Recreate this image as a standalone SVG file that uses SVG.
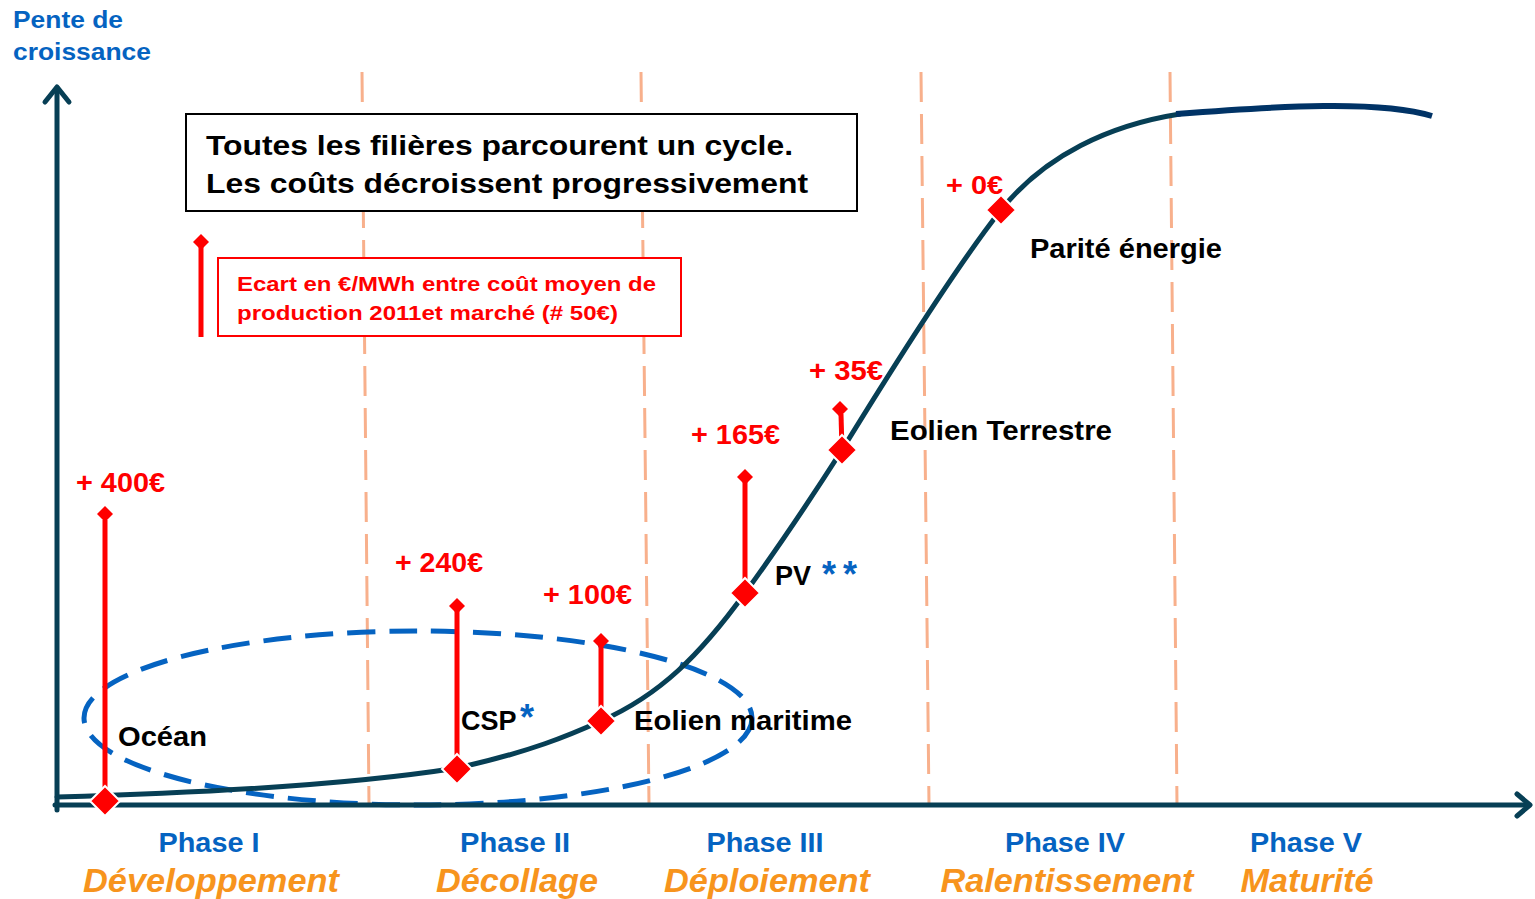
<svg xmlns="http://www.w3.org/2000/svg" width="1535" height="899" viewBox="0 0 1535 899">
<style>
.ph{font-family:"Liberation Sans",Arial,sans-serif;font-weight:bold;fill:#0563C1;font-size:28px;text-anchor:middle}
.ax-lbl{font-family:"Liberation Sans",Arial,sans-serif;font-weight:bold;fill:#0563C1;font-size:24px}
.st{font-family:"Liberation Sans",Arial,sans-serif;font-weight:bold;font-style:italic;fill:#F7941D;font-size:34px;text-anchor:middle}
.lb{font-family:"Liberation Sans",Arial,sans-serif;font-weight:bold;fill:#000;font-size:27px}
.rd{font-family:"Liberation Sans",Arial,sans-serif;font-weight:bold;fill:#FF0000;font-size:27px}
.bl{fill:#0563C1;font-size:36px}
.vd{stroke:#F8B08C;stroke-width:3;stroke-dasharray:30 12;fill:none}
.ax{stroke:#073F55;stroke-width:5;fill:none;stroke-linecap:round;stroke-linejoin:round}
.gap{stroke:#FF0000;stroke-width:5;fill:none}
.dm{fill:#FF0000;stroke:#FFFFFF;stroke-width:2}
.cap{fill:#FF0000}
</style>
<defs>
<polygon id="big" class="dm" points="0,-15 15,0 0,15 -15,0"/>
<polygon id="sm" class="cap" points="0,-8 8,0 0,8 -8,0"/>
</defs>
<rect width="1535" height="899" fill="#FFFFFF"/>

<g id="phase-dividers">
<line class="vd" x1="362" y1="72" x2="369" y2="805"/>
<line class="vd" x1="641" y1="72" x2="649" y2="805"/>
<line class="vd" x1="921" y1="72" x2="929" y2="805"/>
<line class="vd" x1="1170" y1="72" x2="1177" y2="805"/>
</g>

<g id="ellipse-group">
<ellipse cx="418" cy="718" rx="334" ry="87" fill="none" stroke="#0563C1" stroke-width="5" stroke-dasharray="28 14"/>
</g>

<g id="connectors">
<path class="ax" d="M57,797 C200,793 350,785 457,768 C530,752 570,735 601,721 C660,695 700,655 745,593 C780,545 810,500 842,450 C890,372 955,268 1001,210 C1045,155 1110,125 1180,114"/>
<path d="M1176,114 C1280,106 1380,100 1432,116" fill="none" stroke="#003366" stroke-width="6"/>
<line class="ax" x1="57" y1="88" x2="57" y2="810"/>
<polyline class="ax" points="45,102 57,87 69,102"/>
<line class="ax" x1="55" y1="805" x2="1528" y2="805"/>
<polyline class="ax" points="1517,794 1530,805 1517,816"/>
<line class="gap" x1="105" y1="520" x2="105" y2="801"/>
<use href="#sm" x="105" y="514"/>
<line class="gap" x1="457" y1="611" x2="457" y2="769"/>
<use href="#sm" x="457" y="606"/>
<line class="gap" x1="601" y1="646" x2="601" y2="721"/>
<use href="#sm" x="601" y="641"/>
<line class="gap" x1="745" y1="482" x2="745" y2="593"/>
<use href="#sm" x="745" y="477"/>
<line class="gap" x1="841" y1="414" x2="842" y2="450"/>
<use href="#sm" x="840" y="409"/>
</g>

<g id="title-box">
<rect x="186" y="114" width="671" height="97" fill="#FFFFFF" stroke="#000000" stroke-width="2"/>
<text class="lb" x="206" y="155" font-size="30" textLength="587" lengthAdjust="spacingAndGlyphs">Toutes les filières parcourent un cycle.</text>
<text class="lb" x="206" y="193" font-size="30" textLength="602" lengthAdjust="spacingAndGlyphs">Les coûts décroissent progressivement</text>
</g>

<g id="legend">
<line class="gap" x1="201" y1="246" x2="201" y2="337"/>
<use href="#sm" x="201" y="242"/>
<rect x="218" y="258" width="463" height="78" fill="#FFFFFF" stroke="#FF0000" stroke-width="2"/>
<text class="rd" x="237" y="291" style="font-size:21px" textLength="419" lengthAdjust="spacingAndGlyphs">Ecart en €/MWh entre coût moyen de</text>
<text class="rd" x="237" y="320" style="font-size:21px" textLength="381" lengthAdjust="spacingAndGlyphs">production 2011et marché (# 50€)</text>
</g>

<g id="axis-label">
<text class="ax-lbl" x="13" y="28" textLength="110" lengthAdjust="spacingAndGlyphs">Pente de</text>
<text class="ax-lbl" x="13" y="60" textLength="138" lengthAdjust="spacingAndGlyphs">croissance</text>
</g>

<g id="node-ocean">
<use href="#big" x="105" y="801"/>
<text class="rd" x="76" y="492" textLength="89" lengthAdjust="spacingAndGlyphs">+ 400€</text>
<text class="lb" x="118" y="746" textLength="89" lengthAdjust="spacingAndGlyphs">Océan</text>
</g>

<g id="node-csp">
<use href="#big" x="457" y="769"/>
<text class="rd" x="395" y="572" textLength="88" lengthAdjust="spacingAndGlyphs">+ 240€</text>
<text class="lb" x="461" y="730">CSP<tspan class="bl" x="520">*</tspan></text>
</g>

<g id="node-eolien-maritime">
<use href="#big" x="601" y="721"/>
<text class="rd" x="543" y="604" textLength="89" lengthAdjust="spacingAndGlyphs">+ 100€</text>
<text class="lb" x="634" y="730" textLength="218" lengthAdjust="spacingAndGlyphs">Eolien maritime</text>
</g>

<g id="node-pv">
<use href="#big" x="745" y="593"/>
<text class="rd" x="691" y="444" textLength="89" lengthAdjust="spacingAndGlyphs">+ 165€</text>
<text class="lb" x="775" y="585">PV<tspan class="bl" x="822" y="587" textLength="35" lengthAdjust="spacing">**</tspan></text>
</g>

<g id="node-eolien-terrestre">
<use href="#big" x="842" y="450"/>
<text class="rd" x="809" y="380" textLength="74" lengthAdjust="spacingAndGlyphs">+ 35€</text>
<text class="lb" x="890" y="440" textLength="222" lengthAdjust="spacingAndGlyphs">Eolien Terrestre</text>
</g>

<g id="node-parite">
<use href="#big" x="1001" y="210"/>
<text class="rd" x="946" y="194" style="font-size:25px" textLength="57" lengthAdjust="spacingAndGlyphs">+ 0€</text>
<text class="lb" x="1030" y="258" textLength="192" lengthAdjust="spacingAndGlyphs">Parité énergie</text>
</g>

<g id="phases">
<text class="ph" x="209" y="852" textLength="101" lengthAdjust="spacingAndGlyphs">Phase I</text>
<text class="st" x="211" y="892" textLength="256" lengthAdjust="spacingAndGlyphs">Développement</text>
<text class="ph" x="515" y="852" textLength="110" lengthAdjust="spacingAndGlyphs">Phase II</text>
<text class="st" x="517" y="892" textLength="162" lengthAdjust="spacingAndGlyphs">Décollage</text>
<text class="ph" x="765" y="852" textLength="117" lengthAdjust="spacingAndGlyphs">Phase III</text>
<text class="st" x="767" y="892" textLength="206" lengthAdjust="spacingAndGlyphs">Déploiement</text>
<text class="ph" x="1065" y="852" textLength="120" lengthAdjust="spacingAndGlyphs">Phase IV</text>
<text class="st" x="1067" y="892" textLength="253" lengthAdjust="spacingAndGlyphs">Ralentissement</text>
<text class="ph" x="1306" y="852" textLength="112" lengthAdjust="spacingAndGlyphs">Phase V</text>
<text class="st" x="1307" y="892" textLength="133" lengthAdjust="spacingAndGlyphs">Maturité</text>
</g>
</svg>
